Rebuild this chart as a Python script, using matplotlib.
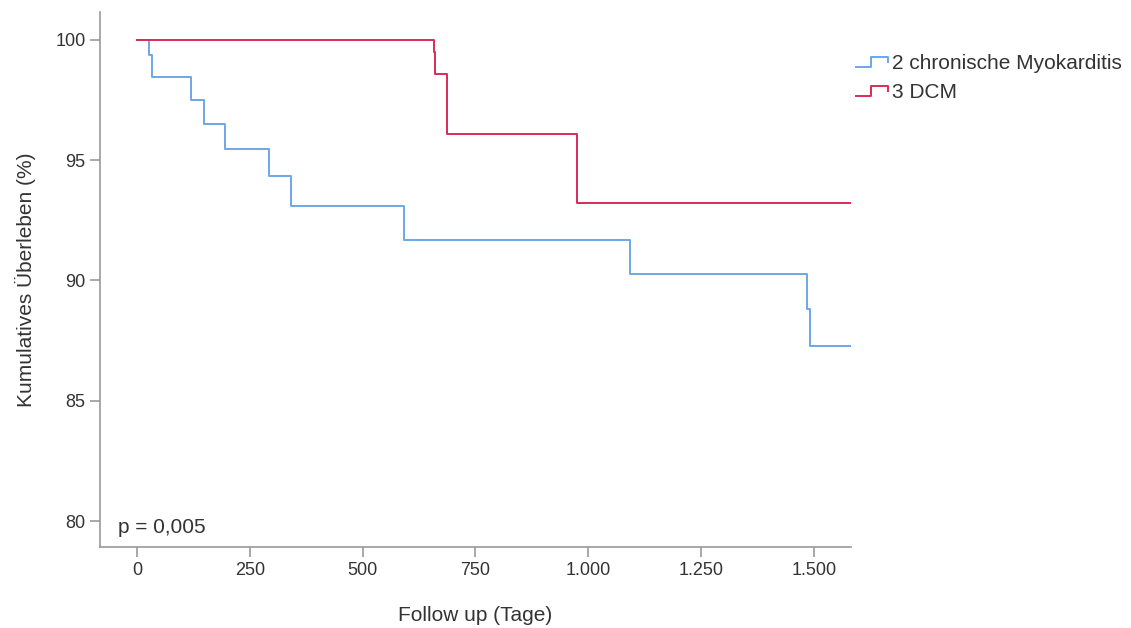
import matplotlib
matplotlib.use("Agg")
import matplotlib.pyplot as plt
from matplotlib.legend_handler import HandlerBase
from matplotlib.lines import Line2D

plt.rcParams['font.family'] = ['Liberation Sans', 'DejaVu Sans']

# Kaplan-Meier Stufen (Tage, kumulatives Überleben in %)
myo_tage = [0, 27, 33, 120, 148, 196, 292, 341, 592, 1092, 1485, 1491, 1582]
myo_surv = [100, 99.37, 98.45, 97.49, 96.51, 95.48, 94.33, 93.08, 91.68, 90.26, 88.8, 87.29, 87.29]
dcm_tage = [0, 659, 661, 688, 974, 1582]
dcm_surv = [100, 99.5, 98.58, 96.1, 93.22, 93.22]

gruppen = ['2 chronische Myokarditis', '3 DCM']
farben = ['#6ea6e8', '#dc2a55']

x_ticks = [0, 250, 500, 750, 1000, 1250, 1500]
x_labels = ['0', '250', '500', '750', '1.000', '1.250', '1.500']
y_ticks = [80, 85, 90, 95, 100]


class StufenHandler(HandlerBase):
    """Legendensymbol als kleine Treppenstufe, wie im SPSS-Output."""
    def create_artists(self, legend, orig_handle, xd, yd, w, h, fontsize, trans):
        x = [xd, xd + 0.47 * w, xd + 0.47 * w, xd + w, xd + w]
        y = [yd + 0.1 * h, yd + 0.1 * h, yd + 0.8 * h, yd + 0.8 * h, yd + 0.45 * h]
        ln = Line2D(x, y, color=orig_handle.get_color(), linewidth=1.4)
        ln.set_transform(trans)
        return [ln]


fig = plt.figure(figsize=(11.31, 6.28), dpi=100)
ax = fig.add_axes([0.0884, 0.129, 0.664, 0.852])

linien = []
for tage, surv, farbe in [(myo_tage, myo_surv, farben[0]), (dcm_tage, dcm_surv, farben[1])]:
    l, = ax.step(tage, surv, where='post', color=farbe, linewidth=1.4)
    linien.append(l)

ax.set_xlim(-82, 1582)
ax.set_ylim(78.92, 101.16)
ax.set_xticks(x_ticks)
ax.set_xticklabels(x_labels)
ax.set_yticks(y_ticks)

for s in ['top', 'right']:
    ax.spines[s].set_visible(False)
for s in ['left', 'bottom']:
    ax.spines[s].set_color('#9a9a9a')
    ax.spines[s].set_linewidth(1.2)
ax.tick_params(colors='#9a9a9a', labelcolor='#333333', labelsize=13, length=7, width=1.2)

ax.set_xlabel('Follow up (Tage)', fontsize=15, color='#333333', labelpad=20)
ax.set_ylabel('Kumulatives Überleben (%)', fontsize=15, color='#333333', labelpad=14)

ax.text(0.024, 0.036, 'p = 0,005', transform=ax.transAxes, fontsize=15,
        color='#333333', va='center', ha='left')

fig.legend(linien, gruppen, handler_map={Line2D: StufenHandler()},
           loc='upper left', bbox_to_anchor=(0.7404, 0.944), frameon=False,
           fontsize=15, handlelength=1.55, handletextpad=0.15, labelspacing=0.47,
           labelcolor='#333333')

fig.savefig('out.png', dpi=100)
